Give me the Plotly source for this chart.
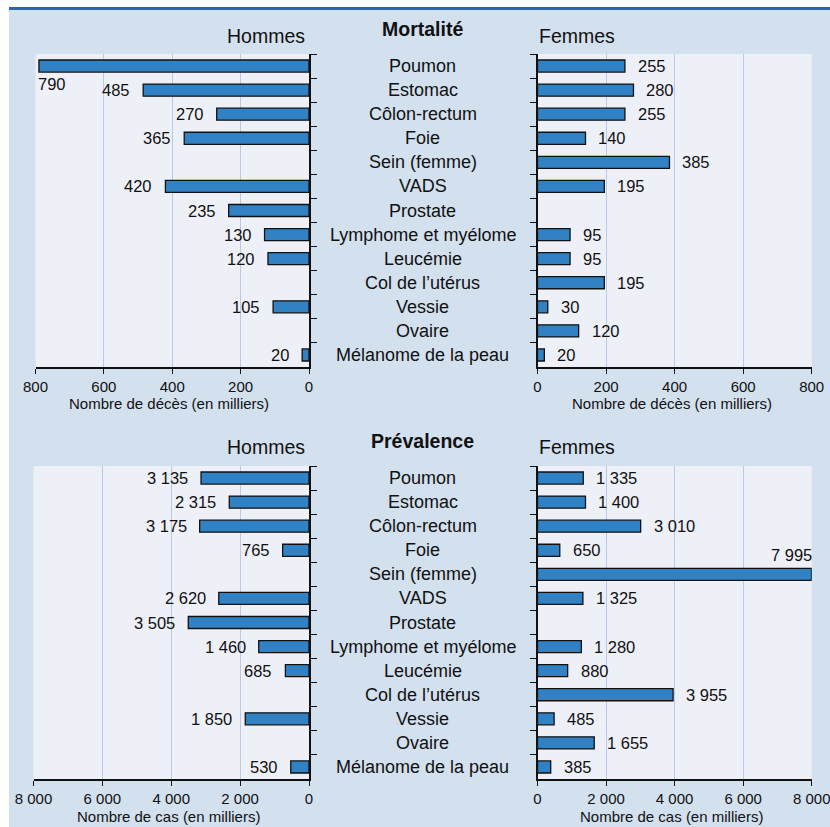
import plotly.graph_objects as go

W, H = 830, 827

categories = ["Poumon", "Estomac", "Côlon-rectum", "Foie", "Sein (femme)", "VADS",
              "Prostate", "Lymphome et myélome", "Leucémie", "Col de l’utérus",
              "Vessie", "Ovaire", "Mélanome de la peau"]

mort_hommes = [790, 485, 270, 365, None, 420, 235, 130, 120, None, 105, None, 20]
mort_femmes = [255, 280, 255, 140, 385, 195, None, 95, 95, 195, 30, 120, 20]
prev_hommes = [3135, 2315, 3175, 765, None, 2620, 3505, 1460, 685, None, 1850, None, 530]
prev_femmes = [1335, 1400, 3010, 650, 7995, 1325, None, 1280, 880, 3955, 485, 1655, 385]

mort_ticks = [0, 200, 400, 600, 800]
prev_ticks = [0, 2000, 4000, 6000, 8000]

FONT = "Liberation Sans, Arial, sans-serif"
PAPER = "#d3e0ee"
PLOT = "#eef0f8"
GRID = "#b9c9e6"
BAR = "#3182c4"
TXT = "#111111"
AX = "#111111"


def fmt(v):
    return f"{v:,}".replace(",", " ")


def px(x):
    return x / W


def py(y):
    return 1 - y / H


fig = go.Figure()

panels = [
    # values, xaxis, yaxis, range max, reversed, x px, y px, ticks, title, title y px
    (mort_hommes, "x", "y", 800, True, (35.5, 309), (54, 367), mort_ticks,
     "Nombre de décès (en milliers)", 403),
    (mort_femmes, "x2", "y2", 800, False, (537.5, 811.7), (54, 367), mort_ticks,
     "Nombre de décès (en milliers)", 403),
    (prev_hommes, "x3", "y3", 8000, True, (33.5, 309), (466, 779), prev_ticks,
     "Nombre de cas (en milliers)", 816),
    (prev_femmes, "x4", "y4", 8000, False, (537.5, 811.7), (466, 779), prev_ticks,
     "Nombre de cas (en milliers)", 816),
]

n = len(categories)
annotations = []
for vals, xa, ya, rmax, rev, (xl, xr), (yt, yb), ticks, ttl, ty in panels:
    fig.add_trace(go.Bar(
        x=vals, y=categories, orientation="h", xaxis=xa, yaxis=ya,
        width=0.5, marker=dict(color=BAR, line=dict(color=AX, width=1.3)),
        hoverinfo="x+y", showlegend=False,
    ))
    xkey = "xaxis" + xa[1:]
    ykey = "yaxis" + ya[1:]
    fig.layout[xkey] = dict(
        domain=[px(xl), px(xr)], anchor=ya, automargin=False,
        range=[rmax, 0] if rev else [0, rmax],
        tickvals=ticks, ticktext=[fmt(t) for t in ticks],
        ticks="outside", ticklen=5, tickwidth=1.3, tickcolor=AX,
        ticklabeloverflow="allow",
        showline=True, linecolor=AX, linewidth=1.6,
        showgrid=True, gridcolor=GRID, gridwidth=1.2, zeroline=False,
        tickfont=dict(family=FONT, size=15, color=TXT),
        fixedrange=True,
    )
    fig.layout[ykey] = dict(
        domain=[py(yb), py(yt)], anchor=xa, type="category", automargin=False,
        categoryorder="array", categoryarray=categories,
        range=[n - 0.5, -0.5], autorange=False,
        side="right" if rev else "left",
        showticklabels=False, ticks="outside", tickson="boundaries",
        ticklen=6, tickwidth=1.3, tickcolor=AX,
        showline=True, linecolor=AX, linewidth=1.6,
        showgrid=False, zeroline=False, fixedrange=True,
    )
    # axis title
    annotations.append(dict(
        x=px((xl + xr) / 2 - 3), y=py(ty), xref="paper", yref="paper", text=ttl,
        showarrow=False, xanchor="center", yanchor="middle",
        font=dict(family=FONT, size=15, color=TXT)))
    # value labels
    for c, v in zip(categories, vals):
        if v is None:
            continue
        if rev:
            if v > 0.9 * rmax:
                a = dict(xanchor="left", xshift=-3, yshift=-18)
            else:
                a = dict(xanchor="right", xshift=-11, yshift=0)
        else:
            if v > 0.9 * rmax:
                a = dict(xanchor="right", xshift=2, yshift=19)
            else:
                a = dict(xanchor="left", xshift=11, yshift=0)
        annotations.append(dict(
            x=v, y=c, xref=xa, yref=ya, text=fmt(v), showarrow=False,
            font=dict(family=FONT, size=16.5, color=TXT), yanchor="middle", **a))
    # center category labels (once per row of panels)
    if not rev:
        continue
    for c in categories:
        annotations.append(dict(
            x=px(423), y=c, xref="paper", yref=ya, text=c, showarrow=False,
            xanchor="center", yanchor="middle",
            font=dict(family=FONT, size=18, color=TXT)))

# headers
headers = [
    ("<b>Mortalité</b>", 423, 29, "center"),
    ("Hommes", 307, 36, "right"),
    ("Femmes", 537, 36, "left"),
    ("<b>Prévalence</b>", 423, 441, "center"),
    ("Hommes", 307, 447, "right"),
    ("Femmes", 537, 447, "left"),
]
for t, x, y, anc in headers:
    annotations.append(dict(
        x=px(x), y=py(y), xref="paper", yref="paper", text=t, showarrow=False,
        xanchor=anc, yanchor="middle", font=dict(family=FONT, size=19.5, color=TXT)))

shapes = [
    # white outer margins
    dict(type="rect", xref="paper", yref="paper", x0=0, x1=px(9), y0=0, y1=1,
         fillcolor="white", line=dict(width=0), layer="below"),
    dict(type="rect", xref="paper", yref="paper", x0=0, x1=1, y0=py(10), y1=1,
         fillcolor="white", line=dict(width=0), layer="below"),
    # top blue rule
    dict(type="rect", xref="paper", yref="paper", x0=px(9), x1=1, y0=py(10), y1=py(7),
         fillcolor="#2c64ad", line=dict(width=0), layer="below"),
]

fig.update_layout(
    width=W, height=H, margin=dict(l=0, r=0, t=0, b=0, autoexpand=False),
    paper_bgcolor=PAPER, plot_bgcolor=PLOT,
    annotations=annotations, shapes=shapes,
    font=dict(family=FONT, color=TXT),
    showlegend=False,
)

fig.write_html("out.html")
